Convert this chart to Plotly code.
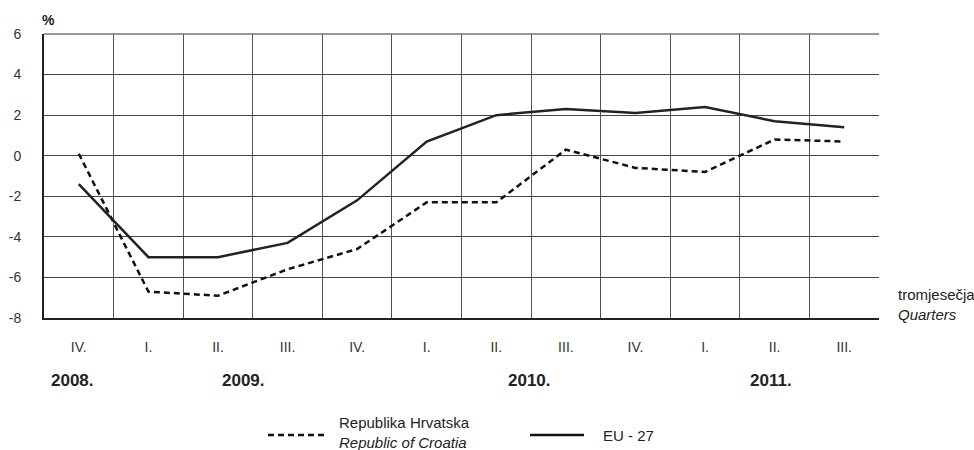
import plotly.graph_objects as go

quarters = ["IV.", "I.", "II.", "III.", "IV.", "I.", "II.", "III.", "IV.", "I.", "II.", "III."]
croatia = [0.1, -6.7, -6.9, -5.6, -4.6, -2.3, -2.3, 0.3, -0.6, -0.8, 0.8, 0.7]
eu27 = [-1.4, -5.0, -5.0, -4.3, -2.2, 0.7, 2.0, 2.3, 2.1, 2.4, 1.7, 1.4]
y_ticks = [-8, -6, -4, -2, 0, 2, 4, 6]
y_ticktext = ["-8", "-6", "-4", "-2", "0", "2", "4", "6"]
years = ["2008.", "2009.", "2010.", "2011."]
year_pos = [-0.09, 2.37, 6.48, 9.95]

FONT = "Liberation Sans, Arial, sans-serif"
x = list(range(len(quarters)))

L, R, T, B = 44, 95, 34, 132
PW = 974 - L - R


def px(v):
    return (v - L) / PW


fig = go.Figure()
fig.add_trace(go.Scatter(x=x, y=croatia, mode="lines", name="Republika Hrvatska",
                         line=dict(color="#111111", width=2.5, dash="6px,4px"), showlegend=False))
fig.add_trace(go.Scatter(x=x, y=eu27, mode="lines", name="EU - 27",
                         line=dict(color="#222222", width=2.5), showlegend=False))

fig.update_layout(
    width=974, height=450,
    margin=dict(l=L, r=R, t=T, b=B),
    plot_bgcolor="white", paper_bgcolor="white",
    font=dict(family=FONT, size=14, color="#222222"),
    xaxis=dict(
        automargin=False,
        range=[-0.5, len(quarters) - 0.5], tickvals=x, ticktext=quarters,
        showgrid=False, zeroline=False, showline=True, linecolor="#222222", linewidth=2,
        ticks="", ticklabelstandoff=15, tickfont=dict(size=14, color="#333333"),
        minor=dict(tickvals=[i - 0.5 for i in range(len(quarters) + 1)], showgrid=True,
                   gridcolor="#555555", gridwidth=1, ticks=""),
    ),
    yaxis=dict(
        automargin=False,
        range=[-8, 6], tickvals=y_ticks, ticktext=y_ticktext,
        showgrid=True, gridcolor="#444444", gridwidth=1,
        zeroline=False, showline=True, linecolor="#222222", linewidth=2,
        ticks="", ticklabelstandoff=18, tickfont=dict(size=14, color="#333333"),
    ),
)

fig.add_shape(type="line", xref="paper", yref="paper", x0=0, x1=1, y0=1, y1=1,
              line=dict(color="#777777", width=1.5))

ann = []
ann.append(dict(text="<b>%</b>", xref="paper", yref="paper", x=px(48), y=1.0, yshift=14,
                xanchor="center", yanchor="middle", showarrow=False, font=dict(size=14, color="#222222")))
for yr, p in zip(years, year_pos):
    ann.append(dict(text=f"<b>{yr}</b>", xref="x", yref="paper", x=p, y=0, yshift=-62,
                    xanchor="center", yanchor="middle", showarrow=False,
                    font=dict(size=17, color="#222222")))
ann.append(dict(text="tromjesečja<br><i>Quarters</i>", xref="paper", yref="paper", x=px(896), y=0,
                yshift=14, xanchor="left", yanchor="middle", align="left", showarrow=False,
                font=dict(size=15, color="#222222")))
ann.append(dict(text="Republika Hrvatska<br><i>Republic of Croatia</i>", xref="paper", yref="paper",
                x=px(337), y=0, yshift=-114, xanchor="left", yanchor="middle", align="left",
                showarrow=False, font=dict(size=15, color="#222222")))
ann.append(dict(text="EU - 27", xref="paper", yref="paper",
                x=px(601), y=0, yshift=-117, xanchor="left", yanchor="middle", align="left",
                showarrow=False, font=dict(size=15, color="#222222")))
fig.update_layout(annotations=ann)

ly = -(435 - (450 - B)) / (450 - T - B)
fig.add_shape(type="line", xref="paper", yref="paper", x0=px(268), x1=px(328),
              y0=ly, y1=ly, line=dict(color="#111111", width=2.5, dash="6px,4px"))
fig.add_shape(type="line", xref="paper", yref="paper", x0=px(530), x1=px(584),
              y0=ly, y1=ly, line=dict(color="#111111", width=2.5))

fig.write_html("out.html", config={"displayModeBar": False},
               post_script="document.body.style.margin='0';document.body.style.overflow='hidden';")
